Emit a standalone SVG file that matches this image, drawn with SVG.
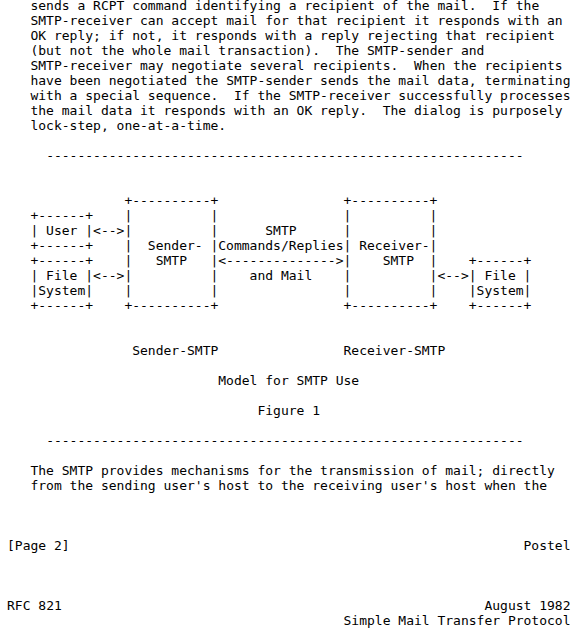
<svg xmlns="http://www.w3.org/2000/svg" width="577" height="635" viewBox="0 0 577 635" xml:space="preserve">
<style>
text{font-family:"DejaVu Sans Mono","Liberation Mono",monospace;font-size:13px;fill:#000;white-space:pre}
.r{text-anchor:end}
</style>
<rect x="0" y="0" width="577" height="635" fill="#fff"/>
<g id="body-top">
<text x="30.48" y="10">sends a RCPT command identifying a recipient of the mail.  If the</text>
<text x="30.48" y="25">SMTP-receiver can accept mail for that recipient it responds with an</text>
<text x="30.48" y="40">OK reply; if not, it responds with a reply rejecting that recipient</text>
<text x="30.48" y="55">(but not the whole mail transaction).  The SMTP-sender and</text>
<text x="30.48" y="70">SMTP-receiver may negotiate several recipients.  When the recipients</text>
<text x="30.48" y="85">have been negotiated the SMTP-sender sends the mail data, terminating</text>
<text x="30.48" y="100">with a special sequence.  If the SMTP-receiver successfully processes</text>
<text x="30.48" y="115">the mail data it responds with an OK reply.  The dialog is purposely</text>
<text x="30.48" y="130">lock-step, one-at-a-time.</text>
<text x="46.13" y="160">-------------------------------------------------------------</text>
</g>
<g id="user">
<text x="30.48" y="220">+------+</text>
<text x="30.48" y="235">| User |</text>
<text x="30.48" y="250">+------+</text>
</g>
<g id="file-system-left">
<text x="30.48" y="265">+------+</text>
<text x="30.48" y="280">| File |</text>
<text x="30.48" y="295">|System|</text>
<text x="30.48" y="310">+------+</text>
</g>
<g id="sender-smtp">
<text x="124.39" y="205">+----------+</text>
<text x="124.39" y="220">|          |</text>
<text x="124.39" y="235">|          |</text>
<text x="124.39" y="250">|  Sender- |</text>
<text x="124.39" y="265">|   SMTP   |</text>
<text x="124.39" y="280">|          |</text>
<text x="124.39" y="295">|          |</text>
<text x="124.39" y="310">+----------+</text>
</g>
<g id="receiver-smtp">
<text x="343.53" y="205">+----------+</text>
<text x="343.53" y="220">|          |</text>
<text x="343.53" y="235">|          |</text>
<text x="343.53" y="250">| Receiver-|</text>
<text x="343.53" y="265">|    SMTP  |</text>
<text x="343.53" y="280">|          |</text>
<text x="343.53" y="295">|          |</text>
<text x="343.53" y="310">+----------+</text>
</g>
<g id="file-system-right">
<text x="468.75" y="265">+------+</text>
<text x="468.75" y="280">| File |</text>
<text x="468.75" y="295">|System|</text>
<text x="468.75" y="310">+------+</text>
</g>
<g id="connectors">
<text x="93.09" y="235">&lt;--&gt;</text>
<text x="93.09" y="280">&lt;--&gt;</text>
<text x="437.44" y="280">&lt;--&gt;</text>
<text x="265.26" y="235">SMTP</text>
<text x="218.31" y="250">Commands/Replies</text>
<text x="218.31" y="265">&lt;--------------&gt;</text>
<text x="249.61" y="280">and Mail</text>
</g>
<g id="captions">
<text x="132.22" y="355">Sender-SMTP</text>
<text x="343.53" y="355">Receiver-SMTP</text>
<text x="218.31" y="385">Model for SMTP Use</text>
<text x="257.44" y="415">Figure 1</text>
</g>
<g id="body-bottom">
<text x="46.13" y="445">-------------------------------------------------------------</text>
<text x="30.48" y="475">The SMTP provides mechanisms for the transmission of mail; directly</text>
<text x="30.48" y="490">from the sending user's host to the receiving user's host when the</text>
</g>
<g id="page-footer-header">
<text x="7" y="550">[Page 2]</text>
<text class="r" x="570.5" y="550">Postel</text>
<text x="7" y="610">RFC 821</text>
<text class="r" x="570.5" y="610">August 1982</text>
<text class="r" x="570.5" y="625">Simple Mail Transfer Protocol</text>
</g>
</svg>
